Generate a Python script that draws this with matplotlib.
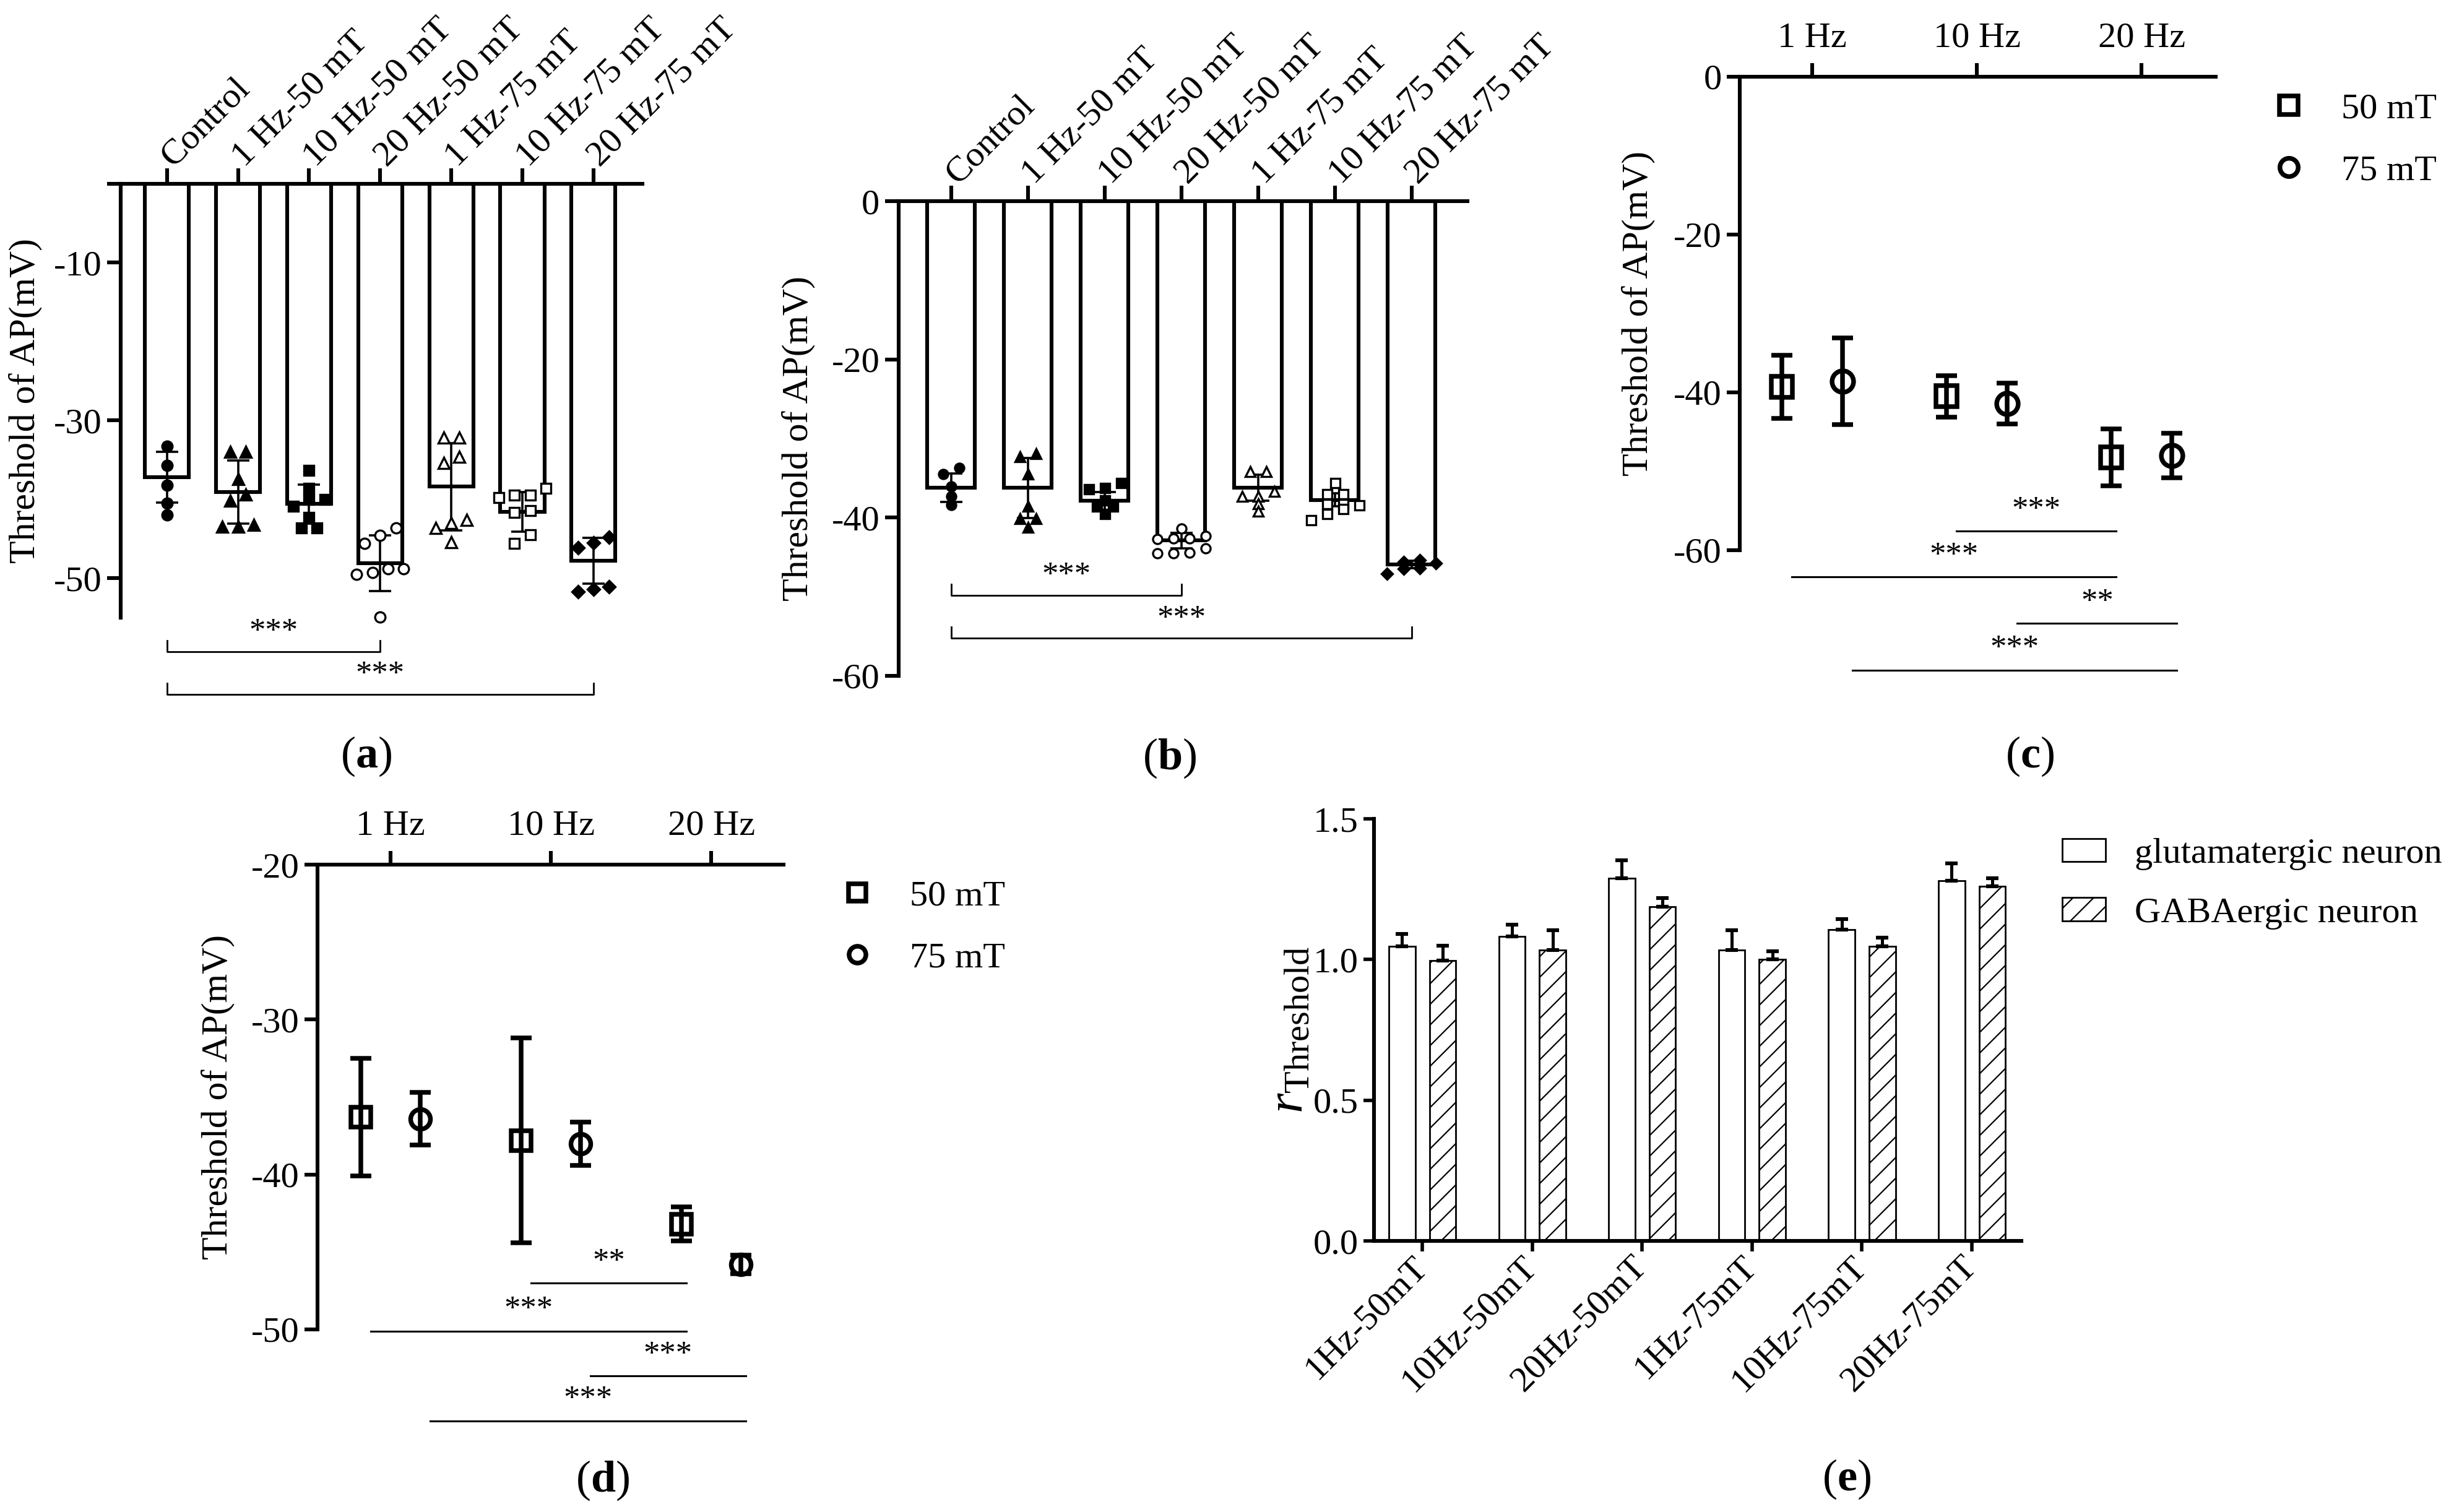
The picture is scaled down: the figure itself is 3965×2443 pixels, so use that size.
import numpy as np
import matplotlib
matplotlib.use("Agg")
import matplotlib.pyplot as plt
from matplotlib.lines import Line2D
from matplotlib.patches import Patch

plt.rcParams['font.family'] = ['Liberation Serif', 'DejaVu Serif']
plt.rcParams['axes.unicode_minus'] = False
plt.rcParams['mathtext.fontset'] = 'custom'
plt.rcParams['mathtext.rm'] = 'Liberation Serif'
plt.rcParams['mathtext.it'] = 'Liberation Serif:italic'
plt.rcParams['mathtext.bf'] = 'Liberation Serif:bold'
plt.rcParams['hatch.linewidth'] = 0.8

# ---------------- data ----------------
groups_ab = ['Control', '1 Hz-50 mT', '10 Hz-50 mT', '20 Hz-50 mT',
             '1 Hz-75 mT', '10 Hz-75 mT', '20 Hz-75 mT']

# panel a : glutamatergic neurons, mean, SD and single cells (mV)
mean_a = [-37.2, -39.1, -40.6, -48.1, -38.4, -41.6, -47.8]
sd_a = [3.2, 4.0, 2.5, 3.5, 5.5, 2.5, 2.9]
pts_a = [
    [-33.3, -35.7, -38.2, -40.5, -42.0],
    [-34.0, -34.0, -37.4, -39.4, -40.2, -43.2, -43.5, -43.5],
    [-36.3, -38.6, -40.0, -40.0, -40.9, -42.3, -43.6, -43.6],
    [-43.6, -44.6, -45.6, -48.8, -48.8, -49.3, -49.5, -54.9],
    [-32.2, -32.2, -34.6, -35.4, -42.6, -43.0, -43.6, -45.4],
    [-38.6, -39.5, -39.5, -39.8, -41.4, -41.7, -44.5, -45.6],
    [-44.8, -45.5, -46.1, -51.1, -51.4, -51.7],
]

# panel b : GABAergic neurons
mean_b = [-36.25, -36.25, -37.9, -42.9, -36.25, -37.75, -45.9]
sd_b = [1.8, 3.8, 1.1, 1.0, 1.65, 0.8, 0.45]
pts_b = [
    [-33.75, -34.5, -36.1, -37.3, -38.4],
    [-32.3, -31.9, -34.5, -38.6, -40.1, -40.1, -41.25],
    [-36.4, -36.25, -35.6, -37.75, -38.6, -38.6, -39.5],
    [-41.4, -42.3, -42.75, -42.6, -42.6, -44.5, -44.4, -44.5, -43.9],
    [-34.2, -34.2, -36.7, -37.3, -37.3, -38.25, -39.2],
    [-35.6, -37.0, -37.0, -38.25, -38.25, -38.4, -38.9, -39.5, -40.25],
    [-45.6, -45.75, -45.4, -46.4, -47.1, -46.5],
]
# comparisons (group i, group j, label)
comp_ab = [(0, 3, '***'), (0, 6, '***')]

# panels c, d : threshold vs frequency
freqs = ['1 Hz', '10 Hz', '20 Hz']
mean_c50 = [-39.3, -40.5, -48.25]
err_c50 = [4.0, 2.6, 3.6]
mean_c75 = [-38.6, -41.4, -48.0]
err_c75 = [5.5, 2.6, 2.8]
mean_d50 = [-36.3, -37.8, -43.2]
err_d50 = [3.8, 6.6, 1.1]
mean_d75 = [-36.4, -38.0, -45.8]
err_d75 = [1.7, 1.4, 0.6]
# comparisons: ((freq, field), (freq, field), label); field 0 = 50 mT, 1 = 75 mT
comp_c = [((1, 0), (2, 0), '***'), ((0, 0), (2, 0), '***'),
          ((1, 1), (2, 1), '**'), ((0, 1), (2, 1), '***')]
comp_d = [((1, 0), (2, 0), '**'), ((0, 0), (2, 0), '***'),
          ((1, 1), (2, 1), '***'), ((0, 1), (2, 1), '***')]

# panel e : ratio of threshold
groups_e = ['1Hz-50mT', '10Hz-50mT', '20Hz-50mT', '1Hz-75mT', '10Hz-75mT', '20Hz-75mT']
glut_e = [1.046, 1.083, 1.289, 1.034, 1.106, 1.281]
glut_err = [0.046, 0.041, 0.063, 0.070, 0.037, 0.060]
gaba_e = [0.997, 1.034, 1.187, 1.000, 1.046, 1.261]
gaba_err = [0.052, 0.070, 0.031, 0.029, 0.032, 0.027]

# ---------------- layout ----------------
W, H, DPI = 3966, 2443, 200
fig = plt.figure(figsize=(W / DPI, H / DPI), dpi=DPI)


def px_axes(l, t, r, b):
    return fig.add_axes([l / W, 1 - b / H, (r - l) / W, (b - t) / H])


def swarm(vals, thr, step, max_n):
    # spread points with similar values side by side
    vals = np.asarray(vals, float)
    order = np.argsort(vals)
    off = np.zeros(len(vals))
    rows = [[order[0]]]
    for k in order[1:]:
        if abs(vals[k] - vals[rows[-1][-1]]) < thr and len(rows[-1]) < max_n:
            rows[-1].append(k)
        else:
            rows.append([k])
    for row in rows:
        n = len(row)
        for j, k in enumerate(row):
            off[k] = (j - (n - 1) / 2) * step
    return off


styles_ab = [('o', True, 6), ('^', True, 6.5), ('s', True, 6), ('o', False, 6),
             ('^', False, 6.5), ('s', False, 6), ('D', True, 5)]
FS = 21


def fmt(v):
    return ('%g' % v).replace('\u2212', '-')


def bar_panel(ax, means, sds, pts, xlim, ylim, yticks, ylabels, levels,
              step, thr, max_n, mscale, ylab_x):
    x = np.arange(len(groups_ab))
    ax.bar(x, means, width=0.62, color='white', edgecolor='black', linewidth=2.2, zorder=1)
    ax.errorbar(x, means, yerr=sds, fmt='none', ecolor='black', elinewidth=1.3,
                capsize=6.5, capthick=1.3, zorder=3)
    for i, vals in enumerate(pts):
        m, filled, ms = styles_ab[i]
        ax.plot(i + swarm(vals, thr, step, max_n), vals, ls='none', marker=m, ms=ms * mscale,
                mfc='black' if filled else 'white', mec='black', mew=1.2,
                zorder=4, clip_on=False)
    for (i, j, lab), y in zip(comp_ab, levels):
        ax.plot([i, i, j, j], [y + 1.4, y, y, y + 1.4], color='black', lw=1.0, clip_on=False)
        ax.annotate(lab, xy=((i + j) / 2, y), xytext=(0, 11), textcoords='offset points',
                    ha='center', va='center', fontsize=19, annotation_clip=False)
    ax.set_xlim(xlim)
    ax.set_ylim(ylim)
    ax.xaxis.tick_top()
    ax.set_xticks(x)
    ax.set_xticklabels(groups_ab, rotation=45, ha='left', va='center',
                       rotation_mode='anchor', fontsize=FS)
    ax.set_yticks(yticks)
    ax.set_yticklabels(ylabels, fontsize=FS)
    ax.tick_params(axis='x', direction='out', length=9, width=2.2, pad=4)
    ax.tick_params(axis='y', direction='out', length=8, width=2.2, pad=3)
    for s in ['right', 'bottom']:
        ax.spines[s].set_visible(False)
    for s in ['left', 'top']:
        ax.spines[s].set_linewidth(2.2)
    ax.set_ylabel('Threshold of AP(mV)', fontsize=21.5)
    ax.yaxis.set_label_coords(ylab_x, 0.5)


ax_a = px_axes(195, 297, 1038, 998)
bar_panel(ax_a, mean_a, sd_a, pts_a, (-0.652, 6.69), (-55, 0), [0, -10, -30, -50],
          ['', '-10', '-30', '-50'], [-59.3, -64.7], 0.22, 1.3, 4, 1.0, -0.15)

ax_b = px_axes(1452, 325, 2371, 1092)
bar_panel(ax_b, mean_b, sd_b, pts_b, (-0.685, 6.73), (-60, 0), [0, -20, -40, -60],
          ['0', '-20', '-40', '-60'], [-49.8, -55.25], 0.21, 0.8, 4, 0.9, -0.146)

DX = 0.185


def point_panel(ax, m50, e50, m75, e75, comps, levels, xlim, ylim, yticks, ms, ylab_x, leg_xy):
    x = np.arange(len(freqs))
    kw = dict(ls='none', ms=ms, mfc='none', mec='black', mew=2.7, ecolor='black',
              elinewidth=2.7, capsize=6, capthick=2.7, clip_on=False)
    ax.errorbar(x - DX, m50, yerr=e50, marker='s', **kw)
    ax.errorbar(x + DX, m75, yerr=e75, marker='o', **kw)
    for ((f1, s1), (f2, s2), lab), y in zip(comps, levels):
        x1 = f1 + (2 * s1 - 1) * DX + 0.06
        x2 = f2 + (2 * s2 - 1) * DX + 0.03
        ax.plot([x1, x2], [y, y], color='black', lw=1.1, clip_on=False)
        ax.annotate(lab, xy=((x1 + x2) / 2, y), xytext=(0, 12), textcoords='offset points',
                    ha='center', va='center', fontsize=19, annotation_clip=False)
    ax.set_xlim(xlim)
    ax.set_ylim(ylim)
    ax.xaxis.tick_top()
    ax.set_xticks(x)
    ax.set_xticklabels(freqs, fontsize=FS)
    ax.set_yticks(yticks)
    ax.set_yticklabels([fmt(v) for v in yticks], fontsize=FS)
    ax.tick_params(axis='x', direction='out', length=8, width=2.2, pad=5)
    ax.tick_params(axis='y', direction='out', length=7.5, width=2.2, pad=3)
    for s in ['right', 'bottom']:
        ax.spines[s].set_visible(False)
    for s in ['left', 'top']:
        ax.spines[s].set_linewidth(2.2)
    ax.set_ylabel('Threshold of AP(mV)', fontsize=21.5)
    ax.yaxis.set_label_coords(ylab_x, 0.5)
    hs = [Line2D([], [], ls='none', marker='s', ms=ms * 0.85, mfc='none', mec='black', mew=2.7),
          Line2D([], [], ls='none', marker='o', ms=ms * 0.85, mfc='none', mec='black', mew=2.7)]
    ax.legend(hs, ['50 mT', '75 mT'], loc='upper left', bbox_to_anchor=leg_xy,
              bbox_transform=fig.transFigure, frameon=False, fontsize=FS,
              handlelength=1.0, handletextpad=0.95, labelspacing=0.8,
              borderpad=0, borderaxespad=0)


ax_c = px_axes(2811, 124, 3580, 889)
point_panel(ax_c, mean_c50, err_c50, mean_c75, err_c75, comp_c,
            [-57.6, -63.4, -69.25, -75.2], (-0.44, 2.45), (-60, 0), [0, -20, -40, -60],
            12.5, -0.178, (3669 / W, 1 - 150 / H))

ax_d = px_axes(513, 1397, 1266, 2148)
point_panel(ax_d, mean_d50, err_d50, mean_d75, err_d75, comp_d,
            [-47.0, -50.1, -53.0, -55.9], (-0.456, 2.45), (-50, -20), [-20, -30, -40, -50],
            11.5, -0.177, (1356 / W, 1 - 1422 / H))

# panel e
ax_e = px_axes(2220, 1323, 3266, 2005)
xe = np.arange(len(groups_e))
ax_e.bar(xe - DX, glut_e, width=0.24, color='white', edgecolor='black', linewidth=1.0, zorder=2)
ax_e.bar(xe + DX, gaba_e, width=0.24, color='white', edgecolor='black', linewidth=1.0,
         hatch='//', zorder=2)
ax_e.errorbar(xe - DX, glut_e, yerr=[np.zeros(len(xe)), glut_err], fmt='none', ecolor='black',
              elinewidth=1.8, capsize=3.6, capthick=2.2, zorder=3)
ax_e.errorbar(xe + DX, gaba_e, yerr=[np.zeros(len(xe)), gaba_err], fmt='none', ecolor='black',
              elinewidth=1.8, capsize=3.6, capthick=2.2, zorder=3)
ax_e.set_xlim(-0.44, 5.45)
ax_e.set_ylim(0, 1.5)
ax_e.set_xticks(xe)
ax_e.set_xticklabels(groups_e, rotation=45, ha='right', va='center',
                     rotation_mode='anchor', fontsize=FS)
ax_e.set_yticks([0, 0.5, 1.0, 1.5])
ax_e.set_yticklabels(['0.0', '0.5', '1.0', '1.5'], fontsize=FS)
ax_e.tick_params(axis='x', direction='out', length=6, width=2.0, pad=6)
ax_e.tick_params(axis='y', direction='out', length=6, width=2.0, pad=3)
for s in ['right', 'top']:
    ax_e.spines[s].set_visible(False)
for s in ['left', 'bottom']:
    ax_e.spines[s].set_linewidth(2.2)
ax_e.set_ylabel(r'$r_{\mathrm{Threshold}}$', fontsize=30)
ax_e.yaxis.set_label_coords(-0.094, 0.5)
he = [Patch(facecolor='white', edgecolor='black', linewidth=1.0),
      Patch(facecolor='white', edgecolor='black', linewidth=1.0, hatch='//')]
ax_e.legend(he, ['glutamatergic neuron', 'GABAergic neuron'], loc='upper left',
            bbox_to_anchor=(3332 / W, 1 - 1354 / H), bbox_transform=fig.transFigure,
            frameon=False, fontsize=FS, handlelength=1.2, handleheight=0.62,
            handletextpad=0.8, labelspacing=0.75, borderpad=0, borderaxespad=0)

# panel letters
for lab, (px, py) in zip('abcde', [(592, 1222), (1890, 1225), (3280, 1222), (974, 2392), (2984, 2390)]):
    fig.text(px / W, 1 - py / H, r'($\mathbf{%s}$)' % lab, fontsize=26, ha='center', va='center')

fig.savefig('out.png', dpi=DPI, facecolor='white')
